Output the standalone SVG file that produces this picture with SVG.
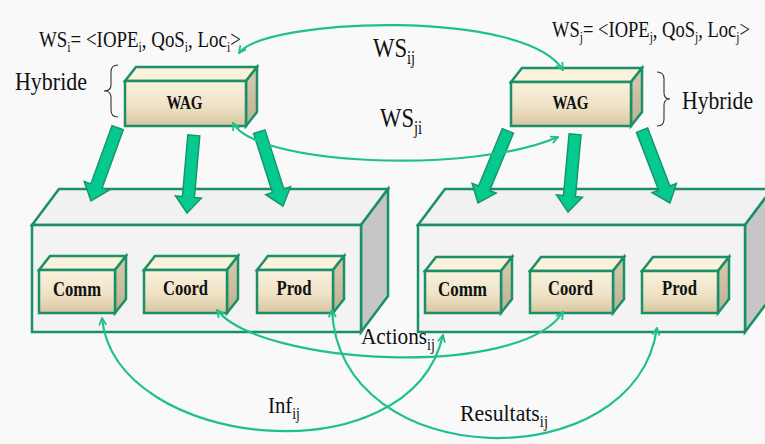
<svg xmlns="http://www.w3.org/2000/svg" xmlns:xlink="http://www.w3.org/1999/xlink" width="765" height="444" viewBox="0 0 765 444">
<defs>
<style>
.ol{stroke:#1b8f66;stroke-width:2.5;stroke-linejoin:miter}
.bigf{fill:#f3f3f3}
.bigt{fill:#f1f1f1}
.bigr{fill:#c6c6c6}
.smf{fill:url(#gf)}
.smt{fill:#fbf2dc}
.smr{fill:url(#gr)}
.lbl{font-family:"Liberation Serif",serif;fill:#111}
.bl{font-family:"Liberation Serif",serif;font-weight:bold;fill:#111;text-anchor:middle}
.cv{fill:none;stroke:#1fc08f;stroke-width:2.2;marker-start:url(#ch);marker-end:url(#ch)}
.ta{fill:#05c98f;stroke:#16976a;stroke-width:1.5;stroke-linejoin:miter}
.br{fill:none;stroke:#333;stroke-width:1.1}
</style>
<linearGradient id="gf" x1="0" y1="0" x2="0" y2="1">
<stop offset="0" stop-color="#faf2de"/>
<stop offset="0.55" stop-color="#efe3c6"/>
<stop offset="1" stop-color="#d8c6a0"/>
</linearGradient>
<linearGradient id="gr" x1="0" y1="0" x2="0" y2="1">
<stop offset="0" stop-color="#d8ccb0"/>
<stop offset="1" stop-color="#bdb092"/>
</linearGradient>
<marker id="ch" viewBox="0 0 10 10" refX="9" refY="5" markerWidth="9" markerHeight="9" markerUnits="userSpaceOnUse" orient="auto-start-reverse">
<path d="M1,1 L9,5 L1,9" fill="none" stroke="#1fc08f" stroke-width="2"/>
</marker>
<path id="ta" d="M0,0 L-13,-16 L-6,-16 L-6,-78 L6,-78 L6,-16 L13,-16 Z"/>
</defs>
<rect x="0" y="0" width="765" height="444" fill="#f9f9f9"/>

<g id="labels">
<text class="lbl" transform="translate(39,47) scale(0.787,1)" font-size="24">WS<tspan font-size="15" dy="5">i</tspan><tspan dy="-5">= &lt;IOPE</tspan><tspan font-size="15" dy="5">i</tspan><tspan dy="-5">, QoS</tspan><tspan font-size="15" dy="5">i</tspan><tspan dy="-5">, Loc</tspan><tspan font-size="15" dy="5">i</tspan><tspan dy="-5">&gt;</tspan></text>
<text class="lbl" transform="translate(552,37) scale(0.772,1)" font-size="24">WS<tspan font-size="15" dy="5">j</tspan><tspan dy="-5">= &lt;IOPE</tspan><tspan font-size="15" dy="5">j</tspan><tspan dy="-5">, QoS</tspan><tspan font-size="15" dy="5">j</tspan><tspan dy="-5">, Loc</tspan><tspan font-size="15" dy="5">j</tspan><tspan dy="-5">&gt;</tspan></text>
<text class="lbl" x="15" y="90" font-size="25" textLength="72" lengthAdjust="spacingAndGlyphs">Hybride</text>
<text class="lbl" x="682" y="109" font-size="25" textLength="71" lengthAdjust="spacingAndGlyphs">Hybride</text>
<text class="lbl" transform="translate(373,57) scale(0.81,1)" font-size="28">WS<tspan font-size="18" dy="7">ij</tspan></text>
<text class="lbl" transform="translate(380,127) scale(0.81,1)" font-size="28">WS<tspan font-size="18" dy="7">ji</tspan></text>
<text class="lbl" transform="translate(361,344) scale(0.885,1)" font-size="24">Actions<tspan font-size="16" dy="6">ij</tspan></text>
<text class="lbl" transform="translate(268,413) scale(0.867,1)" font-size="24">Inf<tspan font-size="16" dy="6">ij</tspan></text>
<text class="lbl" transform="translate(460,421) scale(0.908,1)" font-size="24">Resultats<tspan font-size="16" dy="6">ij</tspan></text>
<path class="br" d="M118,65 Q111,65 111,72 L111,85 Q111,91 104,91 Q111,91 111,97 L111,110 Q111,117 118,117"/>
<path class="br" d="M657,72 Q664,72 664,79 L664,93 Q664,99 670,99 Q664,99 664,105 L664,119 Q664,126 657,126"/>
</g>

<g id="sys-left">
<path class="bigt ol" d="M32,225 L59,189 L388,189 L361,225 Z"/>
<path class="bigr ol" d="M361,225 L388,189 L388,296 L361,332 Z"/>
<rect class="bigf ol" x="32" y="225" width="329" height="107"/>
</g>
<g id="sys-right">
<path class="bigt ol" d="M418,225 L445,189 L772,189 L745,225 Z"/>
<path class="bigr ol" d="M745,225 L772,189 L772,296 L745,332 Z"/>
<rect class="bigf ol" x="418" y="225" width="327" height="107"/>
</g>

<g id="wag-left">
<path class="smt ol" d="M125,81 L136,67 L257,67 L246,81 Z"/>
<path class="smr ol" d="M246,81 L257,67 L257,112 L246,126 Z"/>
<rect class="smf ol" x="125" y="81" width="121" height="45"/>
<text class="bl" x="184.5" y="109" font-size="18" textLength="36" lengthAdjust="spacingAndGlyphs">WAG</text>
</g>
<g id="wag-right">
<path class="smt ol" d="M511,82 L522,68 L642,68 L631,82 Z"/>
<path class="smr ol" d="M631,82 L642,68 L642,112 L631,126 Z"/>
<rect class="smf ol" x="511" y="82" width="120" height="44"/>
<text class="bl" x="570.5" y="109" font-size="18" textLength="36" lengthAdjust="spacingAndGlyphs">WAG</text>
</g>

<g id="comm-left">
<path class="smt ol" d="M39,270 L50,256 L126,256 L115,270 Z"/>
<path class="smr ol" d="M115,270 L126,256 L126,299 L115,313 Z"/>
<rect class="smf ol" x="39" y="270" width="76" height="43"/>
<text class="bl" x="77" y="296" font-size="20" textLength="48" lengthAdjust="spacingAndGlyphs">Comm</text>
</g>
<g id="coord-left">
<path class="smt ol" d="M144,270 L155,256 L238,256 L227,270 Z"/>
<path class="smr ol" d="M227,270 L238,256 L238,299 L227,313 Z"/>
<rect class="smf ol" x="144" y="270" width="83" height="43"/>
<text class="bl" x="185.5" y="295" font-size="20" textLength="45" lengthAdjust="spacingAndGlyphs">Coord</text>
</g>
<g id="prod-left">
<path class="smt ol" d="M257,270 L268,256 L344,256 L333,270 Z"/>
<path class="smr ol" d="M333,270 L344,256 L344,299 L333,313 Z"/>
<rect class="smf ol" x="257" y="270" width="76" height="43"/>
<text class="bl" x="294" y="295" font-size="20" textLength="35" lengthAdjust="spacingAndGlyphs">Prod</text>
</g>
<g id="comm-right">
<path class="smt ol" d="M425,271 L436,257 L512,257 L501,271 Z"/>
<path class="smr ol" d="M501,271 L512,257 L512,299 L501,313 Z"/>
<rect class="smf ol" x="425" y="271" width="76" height="42"/>
<text class="bl" x="462.5" y="296" font-size="20" textLength="49" lengthAdjust="spacingAndGlyphs">Comm</text>
</g>
<g id="coord-right">
<path class="smt ol" d="M530,271 L541,257 L624,257 L613,271 Z"/>
<path class="smr ol" d="M613,271 L624,257 L624,299 L613,313 Z"/>
<rect class="smf ol" x="530" y="271" width="83" height="42"/>
<text class="bl" x="570.5" y="295" font-size="20" textLength="45" lengthAdjust="spacingAndGlyphs">Coord</text>
</g>
<g id="prod-right">
<path class="smt ol" d="M642,271 L653,257 L729,257 L718,271 Z"/>
<path class="smr ol" d="M718,271 L729,257 L729,299 L718,313 Z"/>
<rect class="smf ol" x="642" y="271" width="76" height="42"/>
<text class="bl" x="679.5" y="295" font-size="20" textLength="35" lengthAdjust="spacingAndGlyphs">Prod</text>
</g>

<g id="connectors">
<use href="#ta" class="ta" transform="translate(91,201) rotate(20)"/>
<use href="#ta" class="ta" transform="translate(187,213) rotate(5)"/>
<use href="#ta" class="ta" transform="translate(283,206) rotate(-17.7)"/>
<use href="#ta" class="ta" transform="translate(478,203) rotate(22.5)"/>
<use href="#ta" class="ta" transform="translate(568,212) rotate(5.2)"/>
<use href="#ta" class="ta" transform="translate(670,203) rotate(-21)"/>
<path class="cv" d="M239,53 C265,18 525,8 563,70"/>
<path class="cv" d="M233,123 C255,165 470,175 558,137"/>
<path class="cv" d="M102,318 C115,450 410,480 443,335"/>
<path class="cv" d="M217,310 C260,365 520,380 563,312"/>
<path class="cv" d="M332,310 C340,475 635,480 657,328"/>
</g>
</svg>
